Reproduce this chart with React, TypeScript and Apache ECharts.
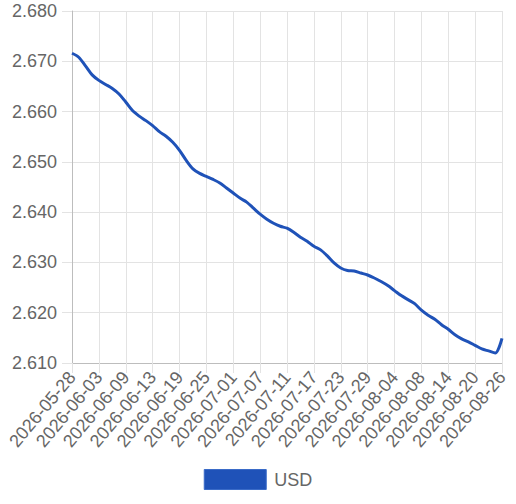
import React, { useEffect, useRef } from "react";
import * as echarts from "echarts";

const dates: string[] = [
  "2026-05-28", "2026-05-29", "2026-05-31", "2026-06-01",
  "2026-06-03", "2026-06-04", "2026-06-06", "2026-06-07",
  "2026-06-09", "2026-06-10", "2026-06-11", "2026-06-12",
  "2026-06-13", "2026-06-14", "2026-06-16", "2026-06-17",
  "2026-06-19", "2026-06-20", "2026-06-22", "2026-06-23",
  "2026-06-25", "2026-06-26", "2026-06-28", "2026-06-29",
  "2026-07-01", "2026-07-02", "2026-07-04", "2026-07-05",
  "2026-07-07", "2026-07-08", "2026-07-09", "2026-07-10",
  "2026-07-11", "2026-07-12", "2026-07-14", "2026-07-15",
  "2026-07-17", "2026-07-18", "2026-07-20", "2026-07-21",
  "2026-07-23", "2026-07-24", "2026-07-26", "2026-07-27",
  "2026-07-29", "2026-07-30", "2026-08-01", "2026-08-02",
  "2026-08-04", "2026-08-05", "2026-08-06", "2026-08-07",
  "2026-08-08", "2026-08-09", "2026-08-11", "2026-08-12",
  "2026-08-14", "2026-08-15", "2026-08-17", "2026-08-18",
  "2026-08-20", "2026-08-21", "2026-08-23", "2026-08-24",
  "2026-08-26",
];

const usd: number[] = [
  2.6716, 2.6708, 2.6691, 2.6673,
  2.6662, 2.6654, 2.6646, 2.6635,
  2.6619, 2.6602, 2.6591, 2.6582,
  2.6572, 2.656, 2.6551, 2.6539,
  2.6523, 2.6503, 2.6486, 2.6477,
  2.6471, 2.6465, 2.6458, 2.6448,
  2.6438, 2.6428, 2.642, 2.6408,
  2.6396, 2.6386, 2.6378, 2.6372,
  2.6368, 2.636, 2.635, 2.6342,
  2.6332, 2.6325, 2.6313, 2.6299,
  2.6289, 2.6284, 2.6283, 2.6279,
  2.6275, 2.6269, 2.6262, 2.6254,
  2.6244, 2.6234, 2.6226, 2.6218,
  2.6205, 2.6195, 2.6187, 2.6176,
  2.6167, 2.6156, 2.6148, 2.6142,
  2.6135, 2.6128, 2.6124, 2.612,
  2.6149,
];

const seriesName = "USD";
const yMin = 2.61;
const yMax = 2.68;
const yStep = 0.01;
const labelEvery = 4;

const FONT = "'Liberation Sans', Arial, Helvetica, sans-serif";

export default function App() {
  const ref = useRef<HTMLDivElement>(null);
  useEffect(() => {
    document.body.style.margin = "0";
    if (!ref.current) return;
    const chart = echarts.init(ref.current, undefined, { renderer: "svg" });
    const skip = (i: number) => i % labelEvery === 0;
    chart.setOption({
      animation: false,
      textStyle: { fontFamily: FONT },
      grid: { left: 72, right: 14, top: 11, bottom: 141, containLabel: false },
      legend: {
        data: [seriesName],
        bottom: 9,
        left: "center",
        icon: "rect",
        itemWidth: 62,
        itemHeight: 20,
        itemStyle: { color: "#1f52b8", borderColor: "#3a6bc8", borderWidth: 1 },
        textStyle: { fontFamily: FONT, fontSize: 18, color: "#666", padding: [0, 0, 0, 3] },
      },
      xAxis: {
        type: "category",
        data: dates,
        boundaryGap: false,
        axisLine: { show: true, lineStyle: { color: "#bdbdbd", width: 1 } },
        axisTick: { show: true, interval: (i: number) => skip(i), length: 10, lineStyle: { color: "#e3e3e3" } },
        splitLine: { show: true, interval: (i: number) => skip(i), lineStyle: { color: "#e3e3e3", width: 1 } },
        axisLabel: {
          interval: (i: number) => skip(i),
          rotate: 50,
          margin: 11,
          fontSize: 18,
          color: "#666",
          fontFamily: FONT,
        },
      },
      yAxis: {
        type: "value",
        min: yMin,
        max: yMax,
        interval: yStep,
        axisLine: { show: true, lineStyle: { color: "#bdbdbd", width: 1 } },
        axisTick: { show: true, length: 10, lineStyle: { color: "#e3e3e3" } },
        splitLine: { show: true, lineStyle: { color: "#e3e3e3", width: 1 } },
        axisLabel: {
          formatter: (v: number) => v.toFixed(3),
          margin: 15,
          fontSize: 18,
          color: "#666",
          fontFamily: FONT,
        },
      },
      series: [
        {
          name: seriesName,
          type: "line",
          data: usd,
          showSymbol: false,
          smooth: 0.3,
          lineStyle: { color: "#1f52b8", width: 3 },
          itemStyle: { color: "#1f52b8" },
        },
      ],
    });
    return () => chart.dispose();
  }, []);
  return (
    <div
      ref={ref}
      style={{ position: "absolute", left: 0, top: 0, width: 516, height: 504 }}
    />
  );
}
